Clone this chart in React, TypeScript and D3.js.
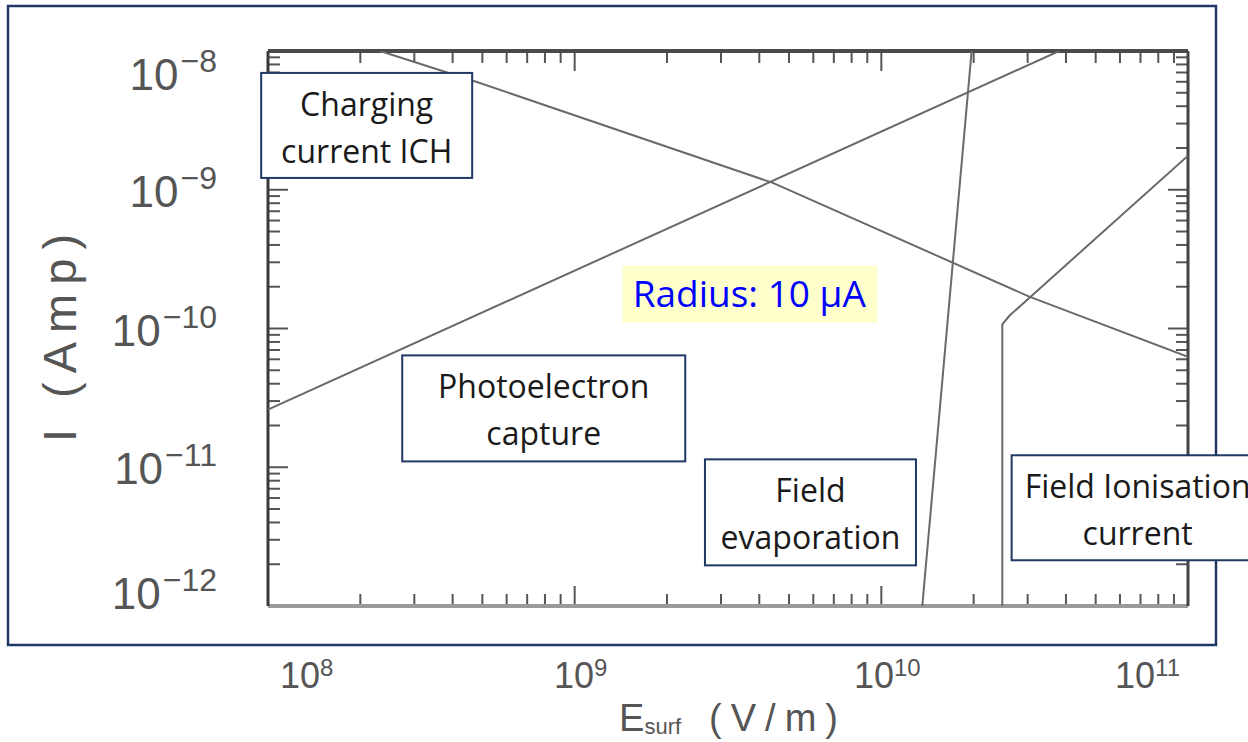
import React from 'react';
import * as d3 from 'd3';

// axes: surface field E (V/m) on x, current I (A) on y, both log
const xDomain = [1e8, 1e11];
const yDomain = [1e-12, 1e-8];

// curves
const chargingE = [2.32e8, 4.8e8, 4.43e9, 3.05e10, 1e11];
const chargingI = [1e-8, 5.98e-9, 1.12e-9, 1.69e-10, 6.24e-11];
const photoE = [1e8, 3.8e10];
const photoI = [2.6e-11, 1e-8];
const evapE = [1.36e10, 1.97e10];
const evapI = [1e-12, 1e-8];
const ionE = [2.48e10, 2.48e10, 2.62e10, 1e11];
const ionI = [1e-12, 1.07e-10, 1.24e-10, 1.76e-9];

// annotation boxes, anchored (top-left) in data space
const boxLines = [
  ['Charging', 'current ICH'],
  ['Photoelectron', 'capture'],
  ['Field', 'evaporation'],
  ['Field Ionisation', 'current'],
];
const boxE = [9.5e7, 2.74e8, 2.66e9, 2.66e10];
const boxI = [6.95e-9, 6.4e-11, 1.14e-11, 1.22e-11];

const radiusLabel = 'Radius: 10 μA';
const radiusE = 1.43e9;
const radiusI = 2.84e-10;

const W = 1248;
const H = 742;
const plot = { left: 268, right: 1188, top: 51, bottom: 606 };
const boxSize = [
  [211, 105],
  [283, 106],
  [211, 106],
  [252, 105],
];

const lineColor = '#6a6a6a';
const navy = '#1f3864';
const axisFont = '"Liberation Sans", Arial, sans-serif';
const boxFont = '"Open Sans", "Noto Sans", sans-serif';

const App = () => {
  const x = d3.scaleLog().domain(xDomain).range([plot.left, plot.right]);
  const y = d3.scaleLog().domain(yDomain).range([plot.bottom, plot.top]);

  const line = d3
    .line<[number, number]>()
    .x(d => x(d[0]))
    .y(d => y(d[1]));

  const curves = [
    d3.zip(chargingE, chargingI),
    d3.zip(photoE, photoI),
    d3.zip(evapE, evapI),
    d3.zip(ionE, ionI),
  ] as [number, number][][];

  const isMajor = (v: number) => {
    const l = Math.log10(v);
    return Math.abs(l - Math.round(l)) < 1e-6;
  };
  const xt = x.ticks();
  const yt = y.ticks();
  const xMajor = xt.filter(isMajor);
  const yMajor = yt.filter(isMajor).reverse(); // top to bottom

  const minorLen = 12;
  const majorLen = 20;

  return (
    <svg
      width={W}
      height={H}
      style={{ position: 'absolute', left: 0, top: 0, background: '#fff' }}
    >
      <defs>
        <clipPath id="plotClip">
          <rect
            x={plot.left}
            y={plot.top}
            width={plot.right - plot.left}
            height={plot.bottom - plot.top}
          />
        </clipPath>
      </defs>

      {/* ticks on all four sides, pointing inward */}
      <g stroke="#555" strokeWidth={2}>
        {xt.map((v, i) => {
          const len = isMajor(v) ? majorLen : minorLen;
          return (
            <g key={'xt' + i}>
              <line x1={x(v)} x2={x(v)} y1={plot.bottom} y2={plot.bottom - len} />
              <line x1={x(v)} x2={x(v)} y1={plot.top} y2={plot.top + len} />
            </g>
          );
        })}
        {yt.map((v, i) => {
          const len = isMajor(v) ? majorLen : minorLen;
          return (
            <g key={'yt' + i}>
              <line x1={plot.left} x2={plot.left + len} y1={y(v)} y2={y(v)} />
              <line x1={plot.right} x2={plot.right - len} y1={y(v)} y2={y(v)} />
            </g>
          );
        })}
      </g>

      {/* plot frame */}
      <line x1={plot.left} x2={plot.right} y1={plot.top} y2={plot.top} stroke="#4a4a4a" strokeWidth={4} />
      <line x1={plot.left} x2={plot.right} y1={plot.bottom} y2={plot.bottom} stroke="#9a9a9a" strokeWidth={4} />
      <line x1={plot.left} x2={plot.left} y1={plot.top} y2={plot.bottom} stroke="#3a3a3a" strokeWidth={3} />
      <line x1={plot.right} x2={plot.right} y1={plot.top} y2={plot.bottom} stroke="#444" strokeWidth={3} />

      {/* curves */}
      <g clipPath="url(#plotClip)" fill="none" stroke={lineColor} strokeWidth={2}>
        {curves.map((c, i) => (
          <path key={'c' + i} d={line(c) || ''} />
        ))}
      </g>

      {/* y tick labels */}
      <g fill="#555" fontFamily={axisFont}>
        {yMajor.map((v, i) => {
          const exp = Math.round(Math.log10(v));
          const off = i === 0 ? 39 : i === yMajor.length - 1 ? 3 : 17;
          return (
            <text key={'yl' + i} x={217} y={y(v) + off} textAnchor="end" fontSize={44}>
              10
              <tspan fontSize={32} dx={2} dy={-18}>
                {'\u2212' + Math.abs(exp)}
              </tspan>
            </text>
          );
        })}
      </g>

      {/* x tick labels */}
      <g fill="#555" fontFamily={axisFont}>
        {xMajor.map((v, i) => {
          const exp = Math.round(Math.log10(v));
          const first = i === 0;
          const last = i === xMajor.length - 1;
          const anchor = first ? 'start' : last ? 'end' : 'middle';
          const px = first ? x(v) + 12 : last ? x(v) - 8 : x(v) + 6;
          return (
            <text key={'xl' + i} x={px} y={688} textAnchor={anchor} fontSize={36}>
              10
              <tspan fontSize={24} dy={-12}>
                {exp}
              </tspan>
            </text>
          );
        })}
      </g>

      {/* axis titles */}
      <text
        transform={`translate(76, ${(plot.top + plot.bottom) / 2 + 5}) rotate(-90)`}
        textAnchor="middle"
        fontFamily={axisFont}
        fontSize={47}
        letterSpacing={9}
        fill="#555"
      >
        I (Amp)
      </text>
      <text
        x={(plot.left + plot.right) / 2 + 5}
        y={731}
        textAnchor="middle"
        fontFamily={axisFont}
        fontSize={38}
        fill="#555"
      >
        E
        <tspan fontSize={22} dy={3}>
          surf
        </tspan>
        <tspan dy={-3} dx={28} letterSpacing={9}>
          (V/m)
        </tspan>
      </text>

      {/* slide frame */}
      <rect x={8} y={6} width={1208} height={639} fill="none" stroke={navy} strokeWidth={2.5} />

      {/* radius label */}
      <g>
        <rect x={x(radiusE)} y={y(radiusI)} width={255} height={57} fill="#ffffcc" />
        <text
          x={x(radiusE) + 127}
          y={y(radiusI) + 41}
          textAnchor="middle"
          fontFamily={boxFont}
          fontSize={37}
          fill="#0000ff"
        >
          {radiusLabel}
        </text>
      </g>

      {/* annotation boxes */}
      {boxLines.map((lines, i) => {
        const bx = x(boxE[i]);
        const by = y(boxI[i]);
        const [bw, bh] = boxSize[i];
        return (
          <g key={'b' + i}>
            <rect x={bx} y={by} width={bw} height={bh} fill="#fff" stroke={navy} strokeWidth={2} />
            {lines.map((t, j) => (
              <text
                key={j}
                x={bx + bw / 2}
                y={by + 43 + j * 47}
                textAnchor="middle"
                fontFamily={boxFont}
                fontSize={32}
                fill="#1a1a1a"
              >
                {t}
              </text>
            ))}
          </g>
        );
      })}
    </svg>
  );
};

export default App;
